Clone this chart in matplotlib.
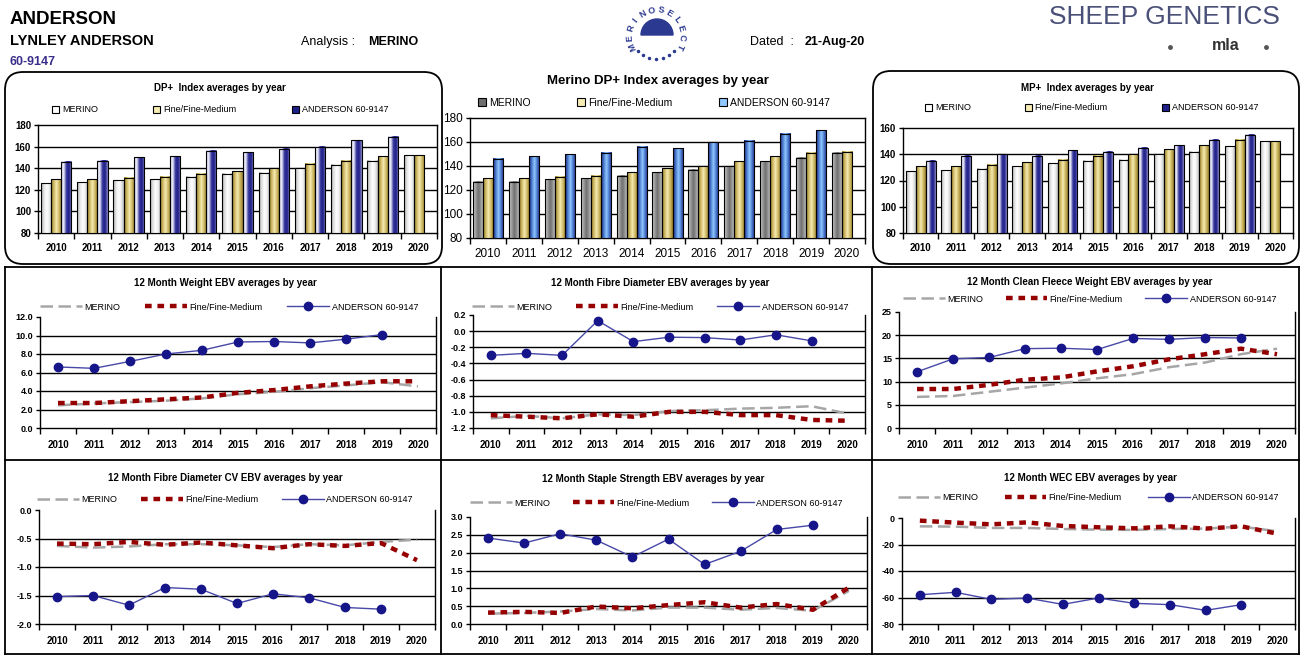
import numpy as np
import matplotlib
matplotlib.use('Agg')
import matplotlib.pyplot as plt
from matplotlib.colors import LinearSegmentedColormap
from matplotlib.patches import FancyBboxPatch, Patch, Wedge

plt.rcParams['font.family'] = ['Liberation Sans', 'DejaVu Sans']

years = ['2010', '2011', '2012', '2013', '2014', '2015', '2016', '2017', '2018', '2019', '2020']
series_names = ['MERINO', 'Fine/Fine-Medium', 'ANDERSON 60-9147']

# index charts (bars)
dp_merino = [126, 127, 129, 130, 132, 135, 136, 140, 143, 147, 152]
dp_fine = [130, 130, 131, 132, 135, 137, 140, 144, 147, 151, 152]
dp_anderson = [146, 147, 150, 151, 156, 155, 158, 160, 166, 169]

mdp_merino = [127, 127, 129, 130, 132, 135, 137, 140, 144, 147, 151]
mdp_fine = [130, 130, 131, 132, 135, 138, 140, 144, 148, 151, 152]
mdp_anderson = [146, 148, 150, 151, 156, 155, 160, 161, 167, 170]

mp_merino = [127, 128, 129, 131, 133, 135, 136, 140, 142, 146, 150]
mp_fine = [131, 131, 132, 134, 136, 139, 140, 144, 147, 151, 150]
mp_anderson = [135, 139, 140, 139, 143, 142, 145, 147, 151, 155]

# EBV charts (lines)
wt_merino = [2.45, 2.65, 2.8, 2.95, 3.2, 3.65, 3.9, 4.3, 4.6, 4.95, 4.5]
wt_fine = [2.7, 2.7, 2.9, 3.1, 3.3, 3.8, 4.1, 4.5, 4.8, 5.05, 5.05]
wt_anderson = [6.6, 6.45, 7.2, 8.0, 8.4, 9.3, 9.35, 9.2, 9.6, 10.1]

fd_merino = [-1.08, -1.05, -1.08, -1.03, -1.04, -0.99, -0.98, -0.96, -0.95, -0.93, -1.02]
fd_fine = [-1.04, -1.06, -1.08, -1.03, -1.06, -1.0, -1.0, -1.04, -1.04, -1.10, -1.11]
fd_anderson = [-0.30, -0.275, -0.30, 0.13, -0.13, -0.075, -0.08, -0.11, -0.045, -0.12]

cfw_merino = [6.7, 6.9, 7.8, 8.7, 9.6, 10.7, 11.6, 13.1, 14.1, 15.9, 17.1]
cfw_fine = [8.4, 8.4, 9.3, 10.4, 10.9, 12.2, 13.3, 14.8, 15.9, 17.1, 15.9]
cfw_anderson = [12.1, 14.9, 15.2, 17.1, 17.2, 16.9, 19.3, 19.1, 19.5, 19.4]

cv_merino = [-0.63, -0.66, -0.64, -0.60, -0.60, -0.62, -0.65, -0.60, -0.62, -0.56, -0.52]
cv_fine = [-0.59, -0.60, -0.56, -0.61, -0.57, -0.62, -0.67, -0.60, -0.63, -0.58, -0.88]
cv_anderson = [-1.52, -1.50, -1.67, -1.36, -1.39, -1.64, -1.47, -1.54, -1.71, -1.74]

ss_merino = [0.29, 0.31, 0.35, 0.42, 0.38, 0.46, 0.46, 0.40, 0.45, 0.37, 0.93]
ss_fine = [0.32, 0.34, 0.31, 0.49, 0.44, 0.53, 0.61, 0.46, 0.56, 0.40, 1.02]
ss_anderson = [2.41, 2.27, 2.53, 2.35, 1.88, 2.38, 1.67, 2.04, 2.65, 2.77]

wec_merino = [-6.3, -6.5, -7.5, -7.5, -8.3, -8.8, -9.0, -8.3, -8.0, -6.5, -10.0]
wec_fine = [-2.0, -3.5, -4.8, -3.3, -6.0, -7.0, -7.8, -6.3, -8.0, -6.3, -11.8]
wec_anderson = [-57.9, -56.1, -61.4, -60.4, -65.2, -60.4, -64.4, -65.4, -69.7, -65.4]

W, H = 1301, 655
fig = plt.figure(figsize=(W / 100, H / 100), dpi=100)

# background axes in pixel coordinates (y down)
bg = fig.add_axes([0, 0, 1, 1])
bg.set_xlim(0, W)
bg.set_ylim(H, 0)
bg.axis('off')


def px_axes(x0, y0, x1, y1):
    return fig.add_axes([x0 / W, 1 - y1 / H, (x1 - x0) / W, (y1 - y0) / H])


def cmap(cols):
    return LinearSegmentedColormap.from_list('g', cols)


grad = np.linspace(0, 1, 64).reshape(1, -1)
gold = ['#9a8232', '#ccb660', '#f6ecb4', '#ccb660', '#9a8232']
light_grey = ['#a8a8a8', '#e0e0e0', '#ffffff', '#eeeeee', '#bcbcbc']
pale_navy = ['#d0d0ee', '#eeeefa', '#34349a', '#20208a', '#8c8cc8']
dark_grey = ['#cacaca', '#9c9c9c', '#6e6e6e', '#9c9c9c', '#cacaca']
bright_blue = ['#1e2a80', '#4a78cc', '#90c8ff', '#4a78cc', '#1e2a80']


def ticklabels(ticks, fmt):
    return [fmt % (np.round(t, 2) + 0.0) for t in ticks]


def setup_axes(ax, ylim, ticks, fmt, fsx, fsy, weight, pad, top_line):
    ax.set_xlim(-0.5, 10.5)
    ax.set_ylim(ylim)
    ax.set_yticks(ticks)
    ax.set_yticklabels(ticklabels(ticks, fmt), fontsize=fsy, weight=weight)
    ax.set_xticks(range(len(years)))
    ax.set_xticklabels(years, fontsize=fsx, weight=weight)
    ax.set_xticks(np.arange(-0.5, 11), minor=True)
    ax.tick_params(axis='x', which='major', length=0, pad=pad)
    ax.tick_params(axis='x', which='minor', length=4, width=1, direction='out')
    ax.tick_params(axis='y', length=3, width=1, direction='out', pad=2)
    for t in ticks[1:-1]:
        ax.axhline(t, color='black', lw=1.0, zorder=1)
    for s in ax.spines.values():
        s.set_linewidth(1.0)
        s.set_color('black')
    ax.spines['top'].set_visible(top_line)


def legend_at(ax, handles, x0, x1, yc, fs, **kw):
    ax.legend(handles, series_names, loc='center', bbox_to_anchor=(x0, yc, x1 - x0, 0),
              bbox_transform=bg.transData, mode='expand', ncol=3, frameon=False,
              fontsize=fs, borderaxespad=0, borderpad=0, handletextpad=0.3, **kw)


def bar_panel(rect, vals, cols, ylim, ticks, title, tpos, tfs, leg, lfs, fsx, fsy, weight):
    ax = px_axes(*rect)
    x = np.arange(len(years))
    w = 0.28
    handles = []
    for off, v, c in zip([-w, 0, w], vals, cols):
        xs = x[:len(v)] + off
        bars = ax.bar(xs, np.array(v) - ylim[0], w, bottom=ylim[0], color='none',
                      edgecolor='black', lw=0.8, zorder=4)
        for b in bars:
            ax.imshow(grad, cmap=cmap(c), aspect='auto', zorder=3, interpolation='bilinear',
                      extent=[b.get_x(), b.get_x() + b.get_width(), ylim[0], ylim[0] + b.get_height()])
        handles.append(Patch(facecolor=c[2] if c is not pale_navy else c[3], edgecolor='black', lw=0.8))
    setup_axes(ax, ylim, ticks, '%d', fsx, fsy, weight, 7, True)
    bg.text(tpos[0], tpos[1], title, ha='center', va='center', fontsize=tfs, weight='bold')
    legend_at(ax, handles, leg[0], leg[1], leg[2], lfs, handlelength=0.8, handleheight=0.8)
    return ax


def line_panel(rect, vals, ylim, ticks, fmt, title, tpos, leg):
    ax = px_axes(*rect)
    x = np.arange(len(years))
    m, f, a = vals
    h1, = ax.plot(x[:len(m)], m, color='#a6a6a6', lw=1.8, dashes=(5, 2.2), zorder=3)
    h2, = ax.plot(x[:len(f)], f, color='#960000', lw=3.2, dashes=(1.5, 1.3), zorder=4)
    h3, = ax.plot(x[:len(a)], a, color='#4848a8', lw=1.0, marker='o', ms=6,
                  mfc='#16168a', mec='#16168a', zorder=5)
    setup_axes(ax, ylim, ticks, fmt, 7, 6.5, 'bold', 9, False)
    bg.text(tpos[0], tpos[1], title, ha='center', va='center', fontsize=7, weight='bold')
    legend_at(ax, [h1, h2, h3], leg[0], leg[1], leg[2], 6.5, handlelength=4.6)
    return ax


# panel frames
bg.add_patch(FancyBboxPatch((5, 72), 437, 192, boxstyle='round,pad=0,rounding_size=18',
                            fill=False, ec='black', lw=1.3))
bg.add_patch(FancyBboxPatch((873, 71), 426, 193, boxstyle='round,pad=0,rounding_size=18',
                            fill=False, ec='black', lw=1.3))
for yy in (267, 460, 654):
    bg.plot([5, 1299], [yy, yy], color='black', lw=1.3)
for xx in (5, 441, 872, 1299):
    bg.plot([xx, xx], [267, 654], color='black', lw=1.3)

# header
bg.text(10, 19, 'ANDERSON', fontsize=13.5, weight='bold', va='center')
bg.text(10, 41, 'LYNLEY ANDERSON', fontsize=10.5, weight='bold', va='center')
bg.text(10, 62, '60-9147', fontsize=9, weight='bold', va='center', color='#3a2e8c')
bg.text(301, 42, 'Analysis :', fontsize=9, va='center')
bg.text(368, 42, 'MERINO', fontsize=9, weight='bold', va='center')
bg.text(750, 42, 'Dated  :', fontsize=9, va='center')
bg.text(805, 42, '21-Aug-20', fontsize=9, weight='bold', va='center')
bg.text(1049, 17, 'SHEEP GENETICS', fontsize=19, va='center', color='#4a5078')
bg.text(1212, 46, 'mla', fontsize=11.5, weight='bold', va='center', color='#333333')
bg.plot([1170, 1266], [47, 47], 'o', ms=2.5, color='#555555')

# MERINOSELECT logo
cx, cy, r = 656, 36, 26
for ch, ang in zip('MERINOSELECT', np.linspace(205, -25, 12)):
    a = np.radians(ang)
    bg.text(cx + r * np.cos(a), cy - r * np.sin(a), ch, fontsize=6.5, weight='bold',
            color='#2b3990', ha='center', va='center', rotation=ang - 90)
bg.add_patch(Wedge((cx + 1, cy - 1), 16, 180, 360, color='#2b3990'))
for ang in np.linspace(220, 320, 7):
    a = np.radians(ang)
    bg.plot(cx + 23 * np.cos(a), cy - 23 * np.sin(a), 'o', ms=1.5, color='#2b3990')

# top row: index bar charts
bar_panel((38, 125, 437, 233), [dp_merino, dp_fine, dp_anderson], [light_grey, gold, pale_navy],
          (80, 180), np.arange(80, 181, 20), 'DP+  Index averages by year', (220, 88), 7,
          (52, 388, 110), 6.5, 7, 7, 'bold')
bar_panel((470, 118, 865, 238), [mdp_merino, mdp_fine, mdp_anderson], [dark_grey, gold, bright_blue],
          (80, 180), np.arange(80, 181, 20), 'Merino DP+ Index averages by year', (658, 81), 9.5,
          (478, 830, 103), 7.5, 8.5, 8.5, 'normal')
bar_panel((903, 128, 1293, 233), [mp_merino, mp_fine, mp_anderson], [light_grey, gold, pale_navy],
          (80, 160), np.arange(80, 161, 20), 'MP+  Index averages by year', (1087, 88), 7,
          (925, 1258, 108), 6.5, 7, 7, 'bold')

# middle row
line_panel((40, 317, 436, 428), [wt_merino, wt_fine, wt_anderson], (0, 12), np.arange(0, 12.1, 2),
           '%.1f', '12 Month Weight EBV averages by year', (225, 283), (40, 418, 307))
line_panel((473, 315, 865, 428), [fd_merino, fd_fine, fd_anderson], (-1.2, 0.2),
           np.linspace(-1.2, 0.2, 8), '%.1f', '12 Month Fibre Diameter EBV averages by year',
           (660, 283), (472, 848, 307))
line_panel((899, 312, 1295, 428), [cfw_merino, cfw_fine, cfw_anderson], (0, 25), np.arange(0, 26, 5),
           '%d', '12 Month Clean Fleece Weight EBV averages by year', (1090, 282), (903, 1276, 299))

# bottom row
line_panel((39, 510, 435, 624), [cv_merino, cv_fine, cv_anderson], (-2.0, 0.0), np.linspace(-2, 0, 5),
           '%.1f', '12 Month Fibre Diameter CV EBV averages by year', (225, 478), (37, 413, 500))
line_panel((470, 517, 867, 624), [ss_merino, ss_fine, ss_anderson], (0, 3.0), np.linspace(0, 3, 7),
           '%.1f', '12 Month Staple Strength EBV averages by year', (653, 479), (470, 843, 503))
line_panel((902, 518, 1295, 624), [wec_merino, wec_fine, wec_anderson], (-80, 0), np.arange(-80, 1, 20),
           '%d', '12 Month WEC EBV averages by year', (1090, 478), (898, 1279, 498))

fig.savefig('out.png', dpi=100)
